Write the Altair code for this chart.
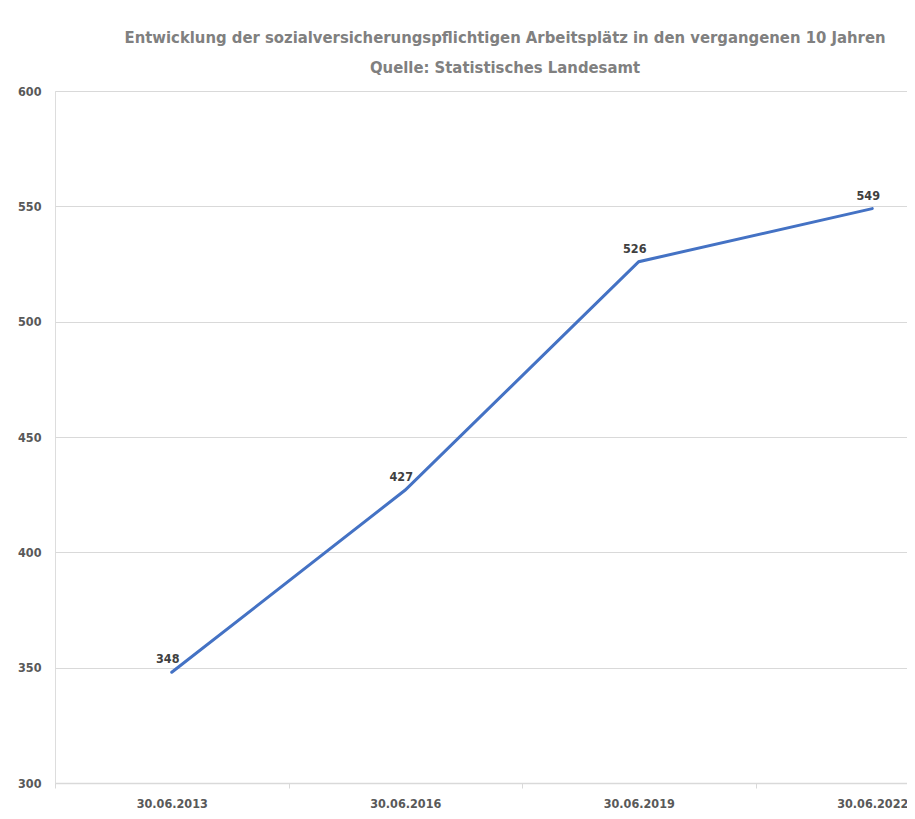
import altair as alt
import pandas as pd

dates = ["30.06.2013", "30.06.2016", "30.06.2019", "30.06.2022"]
values = [348, 427, 526, 549]
y_ticks = [300, 350, 400, 450, 500, 550, 600]
title_lines = [
    "Entwicklung der sozialversicherungspflichtigen Arbeitsplätz in den vergangenen 10 Jahren",
    "Quelle: Statistisches Landesamt",
]

df = pd.DataFrame({"Datum": dates, "Wert": values})

FONT = "Liberation Sans Narrow, DejaVu Sans Condensed, sans-serif"

x_enc = alt.X(
    "Datum:O",
    sort=dates,
    title=None,
    scale=alt.Scale(range=[0, 934], paddingInner=0, paddingOuter=0),
    axis=alt.Axis(
        labelAngle=0,
        labelFont=FONT,
        labelFontSize=12.5,
        labelFontWeight="bold",
        labelColor="#595959",
        labelPadding=9,
        domainColor="#d9d9d9",
        domainWidth=1.5,
        tickColor="#d9d9d9",
        tickSize=5,
        tickBand="extent",
        grid=False,
    ),
)
y_enc = alt.Y(
    "Wert:Q",
    title=None,
    scale=alt.Scale(domain=[300, 600], nice=False, zero=False),
    axis=alt.Axis(
        values=y_ticks,
        labelFont=FONT,
        labelFontSize=12.5,
        labelFontWeight="bold",
        labelColor="#595959",
        labelPadding=14,
        domain=False,
        ticks=False,
        gridColor="#d9d9d9",
        gridWidth=1,
    ),
)

base = alt.Chart(df).encode(x=x_enc, y=y_enc)

line = base.mark_line(color="#4472C4", strokeWidth=3, strokeCap="round")
labels = base.mark_text(
    dy=-13, dx=-4, font=FONT, fontSize=12.5, fontWeight="bold", color="#404040"
).encode(text="Wert:Q")

chart = (
    (line + labels)
    .properties(
        width=852,
        height=692,
        autosize=alt.AutoSizeParams(type="none"),
        padding={"left": 47, "top": 83, "right": 0, "bottom": 26},
        title=alt.TitleParams(
            text=title_lines,
            font=FONT,
            fontSize=16.5,
            fontWeight="bold",
            color="#808080",
            anchor="middle",
            dx=24,
            offset=9,
            lineHeight=30,
        ),
    )
    .configure_view(stroke=None)
    .configure(background="white")
)

chart.save("out.html", embed_options={"renderer": "svg", "actions": False})
